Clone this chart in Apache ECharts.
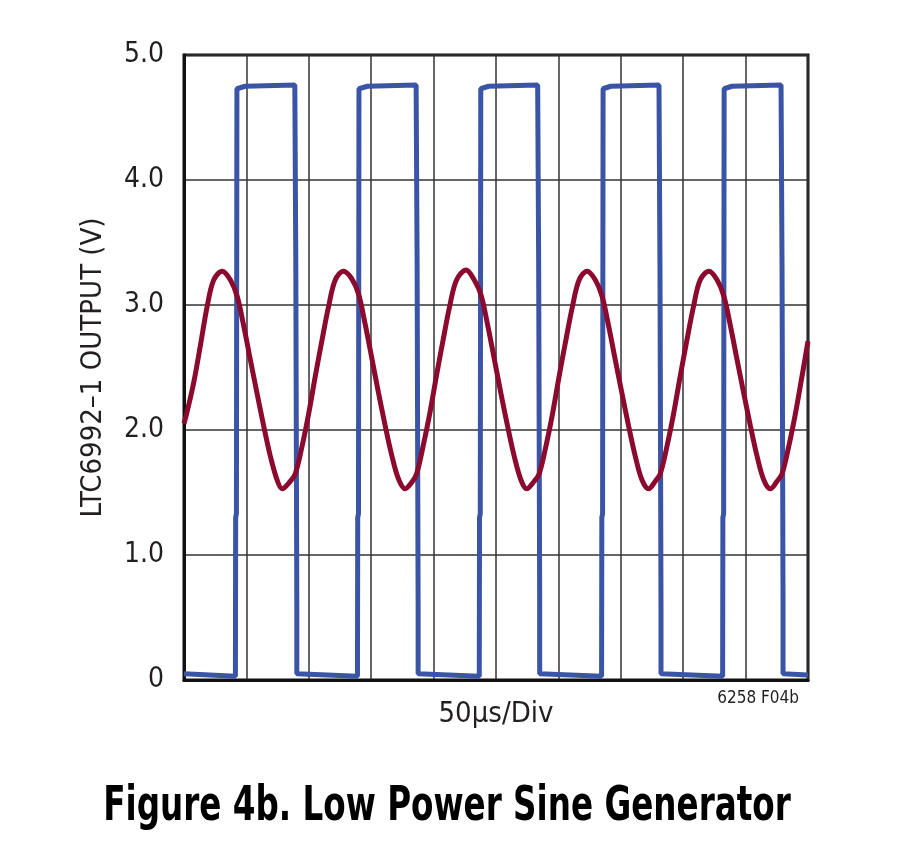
<!DOCTYPE html>
<html>
<head>
<meta charset="utf-8">
<script src="https://cdn.jsdelivr.net/npm/echarts@6/dist/echarts.min.js"></script>
<style>
  html, body { margin: 0; padding: 0; background: #fff; }
  #chart { width: 900px; height: 855px; }
</style>
</head>
<body>
<div id="chart"></div>
<script>
// time in µs (50µs per division, 10 divisions), volts on y
const yTicks = [0, 1, 2, 3, 4, 5];
const xName = '50µs/Div';
const yName = 'LTC6992–1 OUTPUT (V)';
const figureNote = '6258 F04b';
const figureTitle = 'Figure 4b. Low Power Sine Generator';

// square wave output (blue)
const squareWave = [
  [0, 0.05], [41.2, 0.03], [41.4, 1.3], [42.0, 1.33], [42.4, 4.73], [49, 4.75], [88.8, 4.76],
  [89.6, 3.3], [90.4, 0.6], [90.4, 0.05],
  [139.0, 0.03], [139.2, 1.3], [139.8, 1.33], [140.2, 4.73], [147, 4.75], [186.0, 4.76],
  [186.8, 3.3], [187.6, 0.6], [187.6, 0.05],
  [236.6, 0.03], [236.8, 1.3], [237.4, 1.33], [237.8, 4.73], [244, 4.75], [283.4, 4.76],
  [284.2, 3.3], [285.0, 0.6], [285.0, 0.05],
  [334.6, 0.03], [334.8, 1.3], [335.4, 1.33], [335.8, 4.73], [342, 4.75], [380.6, 4.76],
  [381.4, 3.3], [382.2, 0.6], [382.2, 0.05],
  [431.6, 0.03], [431.8, 1.3], [432.4, 1.33], [432.8, 4.73], [439, 4.75], [478.4, 4.76],
  [479.2, 3.3], [480.0, 0.6], [480.0, 0.05],
  [500, 0.04]
];

// filtered sine output (red)
const sineWave = [
  [0, 2.05], [2.6, 2.15], [7.8, 2.38], [13.2, 2.68], [18.6, 2.99], [23.8, 3.20], [30.6, 3.27],
  [37.2, 3.20], [42.6, 3.07], [47.9, 2.83], [53.2, 2.56], [58.6, 2.29], [63.9, 2.03],
  [69.2, 1.79], [74.6, 1.60], [78.6, 1.53], [85.2, 1.59], [89.2, 1.65], [94.6, 1.87],
  [99.9, 2.13], [105.2, 2.43], [110.6, 2.72], [115.9, 2.99], [121.2, 3.20], [127.8, 3.27],
  [134.4, 3.21], [139.8, 3.09], [145.1, 2.85], [150.4, 2.58], [155.8, 2.30], [161.1, 2.04],
  [166.4, 1.80], [171.8, 1.61], [177.2, 1.53], [182.4, 1.58], [186.4, 1.65], [191.8, 1.88],
  [197.1, 2.14], [202.4, 2.44], [207.8, 2.73], [213.1, 3.00], [218.4, 3.20], [226.0, 3.28],
  [232.6, 3.20], [238.0, 3.08], [243.3, 2.84], [248.6, 2.57], [254.0, 2.29], [259.3, 2.03],
  [264.6, 1.79], [270.0, 1.60], [274.6, 1.53], [280.6, 1.59], [284.6, 1.65], [290.0, 1.87],
  [295.3, 2.13], [300.6, 2.43], [306.0, 2.72], [311.3, 2.99], [316.6, 3.20], [323.0, 3.27],
  [329.6, 3.20], [335.0, 3.07], [340.3, 2.83], [345.6, 2.56], [351.0, 2.29], [356.3, 2.03],
  [361.6, 1.79], [367.0, 1.60], [372.4, 1.53], [377.6, 1.59], [381.6, 1.65], [387.0, 1.87],
  [392.3, 2.13], [397.6, 2.43], [403.0, 2.72], [408.3, 2.99], [413.6, 3.20], [420.6, 3.27],
  [427.2, 3.20], [432.6, 3.07], [437.9, 2.83], [443.2, 2.56], [448.6, 2.29], [453.9, 2.03],
  [459.2, 1.79], [464.6, 1.60], [469.8, 1.53], [475.2, 1.59], [479.2, 1.65], [484.6, 1.87],
  [489.9, 2.13], [495.2, 2.43], [500, 2.71]
];

const font = "'Liberation Sans Narrow', 'DejaVu Sans Condensed', 'Roboto Condensed', sans-serif";
const textColor = '#231f20';

const chart = echarts.init(document.getElementById('chart'));
chart.setOption({
  animation: false,
  backgroundColor: '#fff',
  textStyle: { fontFamily: font },
  grid: {
    left: 184, right: 92, top: 55, bottom: 175,
    show: true, borderColor: '#111', borderWidth: 3, backgroundColor: 'transparent'
  },
  xAxis: {
    type: 'value', min: 0, max: 500, interval: 50,
    name: xName, nameLocation: 'middle', nameGap: 20,
    nameTextStyle: { fontSize: 29, color: textColor, fontFamily: font },
    axisLine: { show: true, lineStyle: { color: '#111', width: 3 } },
    axisTick: { show: false },
    axisLabel: { show: false },
    splitLine: { show: true, lineStyle: { color: '#333', width: 1.5 } }
  },
  yAxis: {
    type: 'value', min: yTicks[0], max: yTicks[yTicks.length - 1], interval: 1,
    name: yName, nameLocation: 'middle', nameGap: 76, nameRotate: 90,
    nameTextStyle: { fontSize: 29, color: textColor, fontFamily: font },
    axisLine: { show: true, lineStyle: { color: '#111', width: 3 } },
    axisTick: { show: false },
    axisLabel: {
      fontSize: 28, color: textColor, margin: 20, fontFamily: font,
      formatter: v => v === 0 ? '0' : v.toFixed(1)
    },
    splitLine: { show: true, lineStyle: { color: '#333', width: 1.5 } }
  },
  graphic: [
    {
      type: 'text', right: 101, top: 690,
      style: { text: figureNote, fontSize: 17, fill: textColor, fontFamily: font }
    },
    {
      type: 'text', x: 447, y: 784, scaleX: 0.755,
      style: {
        text: figureTitle, fontSize: 48, fontWeight: 'bold', fill: '#000',
        fontFamily: font, align: 'center', verticalAlign: 'top'
      }
    }
  ],
  series: [
    {
      type: 'line', data: squareWave, showSymbol: false,
      lineStyle: { color: '#3a54a6', width: 5 }
    },
    {
      type: 'line', data: sineWave, showSymbol: false, smooth: 0.35,
      lineStyle: { color: '#8b0a2e', width: 5 }
    }
  ]
});
</script>
</body>
</html>
